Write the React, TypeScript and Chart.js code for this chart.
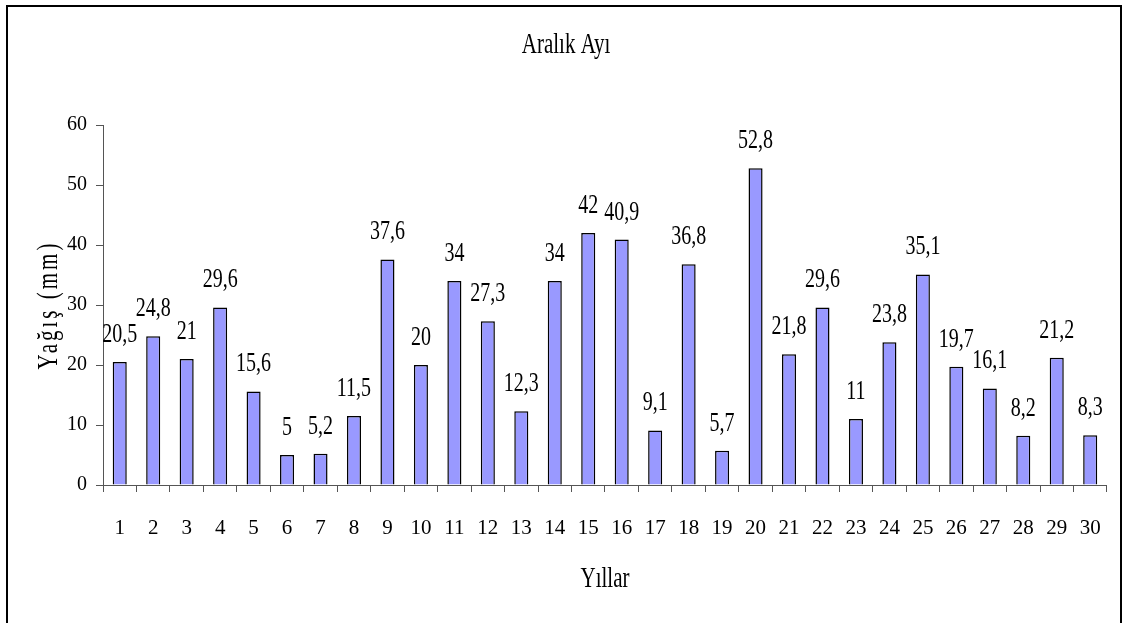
import React, { useEffect, useRef } from "react";
import { Chart, registerables } from "chart.js";

Chart.register(...registerables);

// Yıllık Aralık ayı yağış verisi (mm)
const years: string[] = Array.from({ length: 30 }, (_, i) => String(i + 1));
const rainfall: number[] = [
  20.5, 24.8, 21, 29.6, 15.6, 5, 5.2, 11.5, 37.6, 20,
  34, 27.3, 12.3, 34, 42, 40.9, 9.1, 36.8, 5.7, 52.8,
  21.8, 29.6, 11, 23.8, 35.1, 19.7, 16.1, 8.2, 21.2, 8.3,
];
const yTicks: number[] = [0, 10, 20, 30, 40, 50, 60];

const chartTitle = "Aralık Ayı";
const xTitle = "Yıllar";
const yTitle = "Yağış (mm)";

const FONT = '"Liberation Serif", "Times New Roman", serif';

const W = 1125;
const H = 623;

const fmt = (v: number) => String(v).replace(".", ",");

// Frame, titles and value labels, drawn with a slight vertical stretch
const decorations = {
  id: "decorations",
  afterDraw(chart: any) {
    const ctx: CanvasRenderingContext2D = chart.ctx;
    const area = chart.chartArea;
    ctx.save();

    // outer frame
    ctx.strokeStyle = "#000";
    ctx.lineWidth = 2;
    ctx.strokeRect(7, 6, 1114, 700);

    ctx.fillStyle = "#000";
    ctx.textAlign = "center";
    ctx.textBaseline = "alphabetic";

    const stretched = (text: string, x: number, y: number, size: number, sy: number) => {
      ctx.save();
      ctx.translate(x, y);
      ctx.scale(1, sy);
      ctx.font = `${size}px ${FONT}`;
      ctx.fillText(text, 0, 0);
      ctx.restore();
    };

    // chart title
    stretched(chartTitle, 566, 53, 21, 1.42);
    // x axis title
    stretched(xTitle, (area.left + area.right) / 2, 587, 21, 1.42);

    // y axis title (rotated)
    ctx.save();
    ctx.translate(57, 305);
    ctx.rotate(-Math.PI / 2);
    ctx.scale(1, 1.42);
    ctx.font = `21px ${FONT}`;
    (ctx as any).letterSpacing = "3px";
    ctx.fillText(yTitle, 0, 0);
    ctx.restore();

    // value labels above bars
    const meta = chart.getDatasetMeta(0);
    meta.data.forEach((bar: any, i: number) => {
      stretched(fmt(rainfall[i]), bar.x, bar.y - 20, 20, 1.35);
    });

    ctx.restore();
  },
};

export default function App() {
  const canvasRef = useRef<HTMLCanvasElement | null>(null);

  useEffect(() => {
    const canvas = canvasRef.current;
    if (!canvas) return;
    const chart = new Chart(canvas, {
      type: "bar",
      data: {
        labels: years,
        datasets: [
          {
            data: rainfall,
            backgroundColor: "#9999FF",
            borderColor: "#000000",
            borderWidth: 1.5,
            categoryPercentage: 1,
            barPercentage: 0.42,
          },
        ],
      },
      plugins: [decorations],
      options: {
        responsive: false,
        animation: false,
        devicePixelRatio: 1,
        layout: { padding: { top: 125, right: 18, bottom: 0, left: 0 } },
        plugins: {
          legend: { display: false },
          title: { display: false },
          tooltip: { enabled: false },
        },
        scales: {
          x: {
            grid: {
              display: true,
              offset: true,
              drawOnChartArea: false,
              drawTicks: true,
              tickLength: 7,
              color: "#555",
            },
            border: { display: true, color: "#555", width: 1 },
            ticks: {
              color: "#000",
              font: { family: FONT, size: 21 },
              padding: 24,
              maxRotation: 0,
              autoSkip: false,
            },
            afterFit(scale: any) {
              scale.height = H - 485;
            },
          },
          y: {
            min: 0,
            max: 60,
            afterBuildTicks(scale: any) {
              scale.ticks = yTicks.map((v) => ({ value: v }));
            },
            grid: {
              display: true,
              drawOnChartArea: false,
              drawTicks: true,
              tickLength: 7,
              color: "#555",
            },
            border: { display: true, color: "#555", width: 1 },
            ticks: {
              color: "#000",
              font: { family: FONT, size: 20 },
              padding: 9,
            },
            afterFit(scale: any) {
              scale.width = 103;
            },
          },
        },
      },
    });
    return () => chart.destroy();
  }, []);

  return (
    <div
      style={{
        position: "fixed",
        left: 0,
        top: 0,
        width: W,
        height: H,
        background: "#fff",
        overflow: "hidden",
      }}
    >
      <canvas ref={canvasRef} width={W} height={H} style={{ width: W, height: H, display: "block" }} />
    </div>
  );
}
